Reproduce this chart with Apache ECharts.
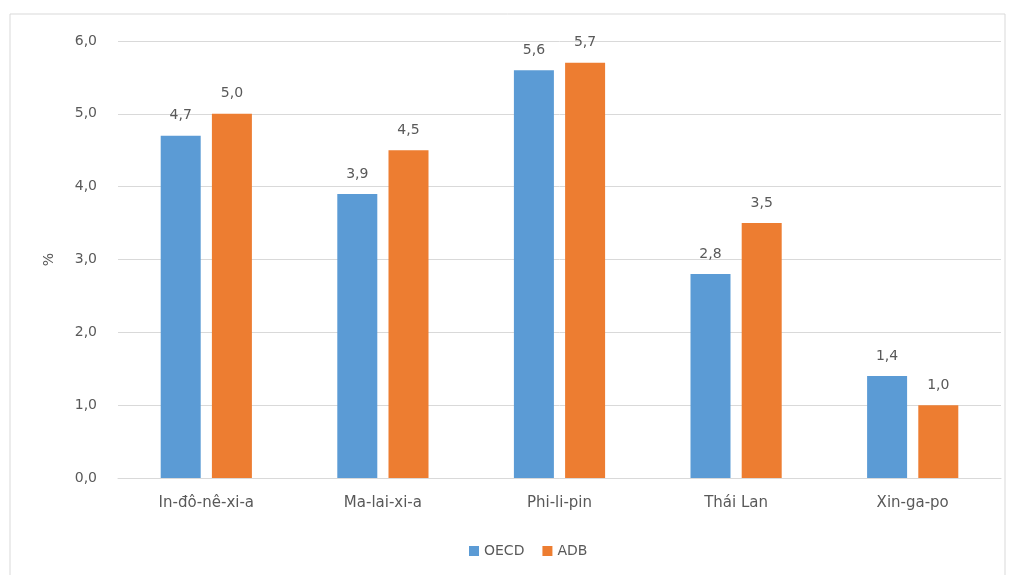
<!DOCTYPE html>
<html><head><meta charset="utf-8">
<script src="https://cdn.jsdelivr.net/npm/echarts@6/dist/echarts.min.js"></script>
<style>html,body{margin:0;padding:0;background:#fff}#c{width:1013px;height:575px}</style>
</head><body><div id="c"></div>
<script>
const categories = ['In-đô-nê-xi-a', 'Ma-lai-xi-a', 'Phi-li-pin', 'Thái Lan', 'Xin-ga-po'];
const oecd = [4.7, 3.9, 5.6, 2.8, 1.4];
const adb = [5.0, 4.5, 5.7, 3.5, 1.0];
const seriesNames = ['OECD', 'ADB'];
const fmt = v => v.toFixed(1).replace('.', ',');
const chart = echarts.init(document.getElementById('c'));
const font = 'DejaVu Sans, sans-serif';
const lbl = {show: true, position: 'top', distance: 13, color: '#595959', fontSize: 14, fontFamily: font, formatter: p => fmt(p.value)};
chart.setOption({
  animation: false,
  graphic: [{type: 'rect', shape: {x: 10, y: 14, width: 995, height: 570}, style: {fill: null, stroke: '#d9d9d9', lineWidth: 1}, silent: true}],
  grid: {left: 118, right: 12, top: 41, bottom: 97},
  legend: {bottom: 12, left: 464, itemWidth: 10, itemHeight: 10, itemGap: 18, icon: 'rect',
    textStyle: {color: '#595959', fontSize: 14, fontFamily: font}, data: seriesNames},
  xAxis: {type: 'category', data: categories,
    axisLine: {lineStyle: {color: '#d9d9d9'}}, axisTick: {show: false},
    axisLabel: {color: '#595959', fontSize: 15, fontFamily: font, margin: 18}},
  yAxis: {type: 'value', min: 0, max: 6, interval: 1, name: '%', nameLocation: 'middle', nameGap: 62, nameRotate: 90,
    nameTextStyle: {color: '#595959', fontSize: 14, fontFamily: font},
    axisLabel: {color: '#595959', fontSize: 14, fontFamily: font, margin: 21, formatter: v => fmt(v)},
    axisLine: {show: false}, axisTick: {show: false},
    splitLine: {lineStyle: {color: '#d9d9d9'}}},
  series: [
    {name: seriesNames[0], type: 'bar', data: oecd, barWidth: 40, barGap: '28%', itemStyle: {color: '#5b9bd5'}, label: lbl},
    {name: seriesNames[1], type: 'bar', data: adb, barWidth: 40, itemStyle: {color: '#ed7d31'}, label: lbl}
  ]
});
</script></body></html>
